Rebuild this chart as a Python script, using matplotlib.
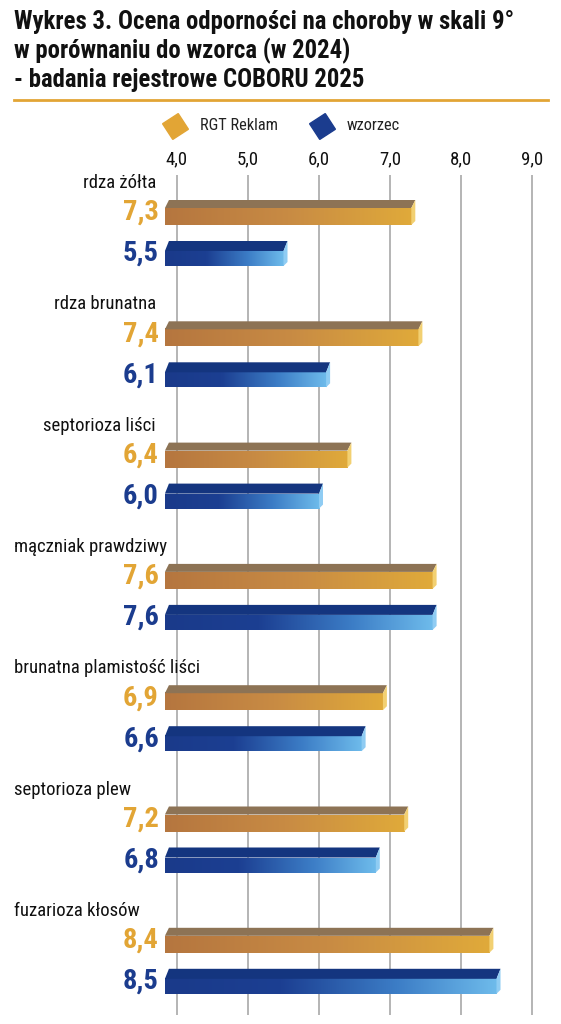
import numpy as np
import matplotlib
matplotlib.use("Agg")
import matplotlib.pyplot as plt
from matplotlib import font_manager, transforms
from matplotlib.colors import LinearSegmentedColormap
from matplotlib.lines import Line2D
from matplotlib.patches import Polygon

categories = [
    "rdza żółta",
    "rdza brunatna",
    "septorioza liści",
    "mączniak prawdziwy",
    "brunatna plamistość liści",
    "septorioza plew",
    "fuzarioza kłosów",
]
rgt_reklam = [7.3, 7.4, 6.4, 7.6, 6.9, 7.2, 8.4]
wzorzec = [5.5, 6.1, 6.0, 7.6, 6.6, 6.8, 8.5]
series_names = ["RGT Reklam", "wzorzec"]
ticks = [4.0, 5.0, 6.0, 7.0, 8.0, 9.0]
tick_labels = ["4,0", "5,0", "6,0", "7,0", "8,0", "9,0"]
title_lines = [
    "Wykres 3. Ocena odporności na choroby w skali 9°",
    "w porównaniu do wzorca (w 2024)",
    "- badania rejestrowe COBORU 2025",
]

# pick a narrow font if there is one
installed = {f.name for f in font_manager.fontManager.ttflist}
FONT = "DejaVu Sans"
for name in ["Roboto Condensed", "Liberation Sans Narrow", "DejaVu Sans Condensed"]:
    if name in installed:
        FONT = name
        break
plt.rcParams["font.family"] = [FONT, "DejaVu Sans"]

W, H = 561, 1024
fig = plt.figure(figsize=(W / 100, H / 100), dpi=100)

ORANGE = "#E2A535"
BLUE = "#1B3C8E"

# title block
for k, line in enumerate(title_lines):
    fig.text(14 / W, 1 - (22 + 29 * k) / H, line, ha="left", va="center",
             fontsize=17.8, fontweight="bold", color="#111111")
fig.add_artist(Line2D([14 / W, 548 / W], [1 - 100 / H] * 2, color=ORANGE, lw=2,
                      transform=fig.transFigure))

# legend
for name, col, x in zip(series_names, [ORANGE, BLUE], [175, 322]):
    fig.add_artist(Line2D([x / W], [1 - 126 / H], marker=(4, 0, -12), markersize=19,
                          color=col, transform=fig.transFigure, linestyle="none"))
    fig.text((x + 25) / W, 1 - 126 / H, name, ha="left", va="center", fontsize=11.8,
             color="#222222")

# axes in which 4.0 sits at x=177 px and each unit is 71 px
left_px, right_px, top_px, bot_px = 150, 555, 175, 1015
ax = fig.add_axes([left_px / W, 1 - bot_px / H, (right_px - left_px) / W,
                   (bot_px - top_px) / H])
ppu = 71.0
group_px = 121.3
xlim = (4 + (left_px - 177) / ppu, 4 + (right_px - 177) / ppu)
ylim = ((bot_px - 183) / group_px, (top_px - 183) / group_px)

base = 3.83
dx = 4 / ppu


def gy(px):
    return px / group_px


cmap_o = LinearSegmentedColormap.from_list(
    "o", [(0, "#B5763F"), (0.5, "#C88B44"), (1, "#E0AA3A")])
cmap_b = LinearSegmentedColormap.from_list(
    "b", [(0, "#1A3A8A"), (0.35, "#1C3F92"), (0.7, "#3C7DC6"), (1, "#6EBBEB")])

styles = [
    # offsets from label (px): top face top, front top, front bottom
    dict(vals=rgt_reklam, off=(17, 25, 42), cmap=cmap_o, top="#8D7355",
         cap="#F2D072", text=ORANGE),
    dict(vals=wzorzec, off=(58, 68, 83), cmap=cmap_b, top="#14357F",
         cap="#8FCCF3", text=BLUE),
]

grad = np.linspace(0, 1, 256).reshape(1, -1)
label_off = transforms.ScaledTranslation(-6 / 100, 0, fig.dpi_scale_trans)

for i in range(len(categories)):
    for st in styles:
        v = st["vals"][i]
        yt = i + gy(st["off"][0])
        ft = i + gy(st["off"][1])
        fb = i + gy(st["off"][2])
        ax.imshow(grad, cmap=st["cmap"], extent=(base, v, fb, ft), aspect="auto",
                  zorder=3, interpolation="bilinear")
        ax.add_patch(Polygon([(base, ft), (v, ft), (v + dx, yt), (base + dx, yt)],
                             closed=True, facecolor=st["top"], edgecolor="none",
                             zorder=3))
        ax.add_patch(Polygon([(v, ft), (v + dx, yt), (v + dx, fb - gy(4)), (v, fb)],
                             closed=True, facecolor=st["cap"], edgecolor="none",
                             zorder=3))
        ax.text(base, (yt + fb) / 2, f"{v:.1f}".replace(".", ","), ha="right",
                va="center", fontsize=20.5, fontweight="bold", color=st["text"],
                transform=ax.transData + label_off)

# category labels: short ones end at the bar, long ones start at the margin
lab_tr = transforms.blended_transform_factory(fig.transFigure, ax.transData)
for i, cat in enumerate(categories):
    if i < 3:
        ax.text(156 / W, i, cat, ha="right", va="center", fontsize=13.5,
                color="#111111", transform=lab_tr)
    else:
        ax.text(14 / W, i, cat, ha="left", va="center", fontsize=13.5,
                color="#111111", transform=lab_tr)

ax.set_xlim(*xlim)
ax.set_ylim(*ylim)
ax.set_xticks(ticks)
ax.set_xticklabels(tick_labels)
ax.set_yticks([])
ax.tick_params(axis="x", top=True, bottom=False, labeltop=True, labelbottom=False,
               length=0, pad=5, labelsize=13.5, colors="#111111")
ax.grid(axis="x", color="#A8A8A8", lw=1.2)
ax.set_axisbelow(True)
for s in ax.spines.values():
    s.set_visible(False)

fig.savefig("out.png", dpi=100)
